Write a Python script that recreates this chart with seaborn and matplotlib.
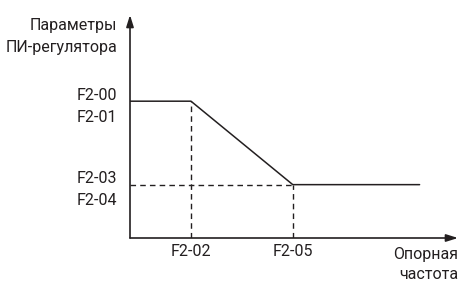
import matplotlib
matplotlib.use("Agg")
import matplotlib.pyplot as plt
import seaborn as sns
import pandas as pd

# reference frequency -> PI parameter curve
freq = [0.0, 1.0, 2.67, 4.75]
param = [1.0, 1.0, 0.39, 0.39]
x_ticks = [1.0, 2.67]
x_labels = ["F2-02", "F2-05"]
y_ticks = [1.0, 0.39]
y_labels = ["F2-00\nF2-01", "F2-03\nF2-04"]
y_title = "Параметры\nПИ-регулятора"
x_title = "Опорная\nчастота"

sns.set_style("white")
plt.rcParams['font.family'] = ['Roboto', 'DejaVu Sans']
ink = "#231f20"
fs = 11.5

fig = plt.figure(figsize=(4.6, 2.85), dpi=100)
ax = fig.add_axes([130/460, 47/285, 328/460, 223/285])

df = pd.DataFrame({"freq": freq, "param": param})
sns.lineplot(data=df, x="freq", y="param", ax=ax, color=ink, lw=1.1, sort=False)

# dashed guides
ax.plot([x_ticks[0], x_ticks[0]], [0, param[1]], ls=(0, (4, 3)), color=ink, lw=1.0)
ax.plot([x_ticks[1], x_ticks[1]], [0, param[2]], ls=(0, (4, 3)), color=ink, lw=1.0)
ax.plot([0, x_ticks[1]], [param[2], param[2]], ls=(0, (4, 3)), color=ink, lw=1.0)

ax.set_xlim(0, 5.38)
ax.set_ylim(0, 1.63)
for s in ax.spines.values():
    s.set_visible(False)

# axes with arrows
arrow = dict(arrowstyle="-|>,head_length=0.7,head_width=0.22", color=ink, lw=1.2, shrinkA=0, shrinkB=0)
ax.annotate("", xy=(1, 0), xytext=(0, 0), xycoords="axes fraction", arrowprops=arrow, annotation_clip=False)
ax.annotate("", xy=(0, 1), xytext=(0, 0), xycoords="axes fraction", arrowprops=arrow, annotation_clip=False)

ax.set_xticks(x_ticks, x_labels)
ax.set_yticks(y_ticks, y_labels)
ax.tick_params(axis="x", length=0, pad=4, labelsize=fs, colors=ink)
ax.tick_params(axis="y", length=0, pad=9, labelsize=fs, colors=ink)
for t in ax.get_yticklabels():
    t.set_linespacing(1.6)
ax.set_xlabel("")
ax.set_ylabel("")

fig.text(117/460, 1 - 18/285, y_title, ha="right", va="top", fontsize=fs, color=ink, linespacing=1.55)
fig.text(458/460, 3/285, x_title, ha="right", va="bottom", fontsize=fs, color=ink, linespacing=1.45)

fig.savefig("out.png", dpi=100)
